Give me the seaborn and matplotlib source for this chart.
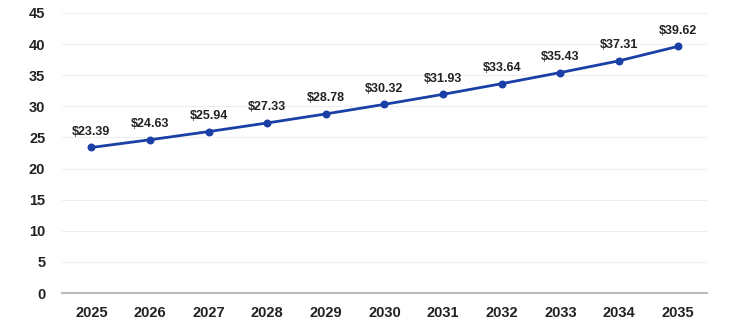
import matplotlib
matplotlib.use("Agg")
import matplotlib.pyplot as plt
import seaborn as sns
import pandas as pd

years = ["2025", "2026", "2027", "2028", "2029", "2030", "2031", "2032", "2033", "2034", "2035"]
values = [23.39, 24.63, 25.94, 27.33, 28.78, 30.32, 31.93, 33.64, 35.43, 37.31, 39.62]
yticks = [0, 5, 10, 15, 20, 25, 30, 35, 40, 45]

sns.set_theme(style="white")
plt.rcParams["font.family"] = ["Liberation Sans", "DejaVu Sans"]

df = pd.DataFrame({"year": years, "value": values})

fig = plt.figure(figsize=(7.41, 3.33), dpi=100)
ax = fig.add_axes([0.0837, 0.12, 0.8703, 0.841])

sns.pointplot(data=df, x="year", y="value", ax=ax, color="#1a3fa6",
              markers="o", scale=0.6, linewidth=2)
for line in ax.lines:
    line.set_markersize(4.5)
    line.set_linewidth(2)

for i, v in enumerate(values):
    ax.annotate(f"${v:.2f}", (i, v), xytext=(0, 7), textcoords="offset points",
                ha="center", va="bottom", fontsize=9, fontweight="bold", color="#222222")

ax.set_ylim(0, 45)
ax.set_xlim(-0.5, len(years) - 0.5)
ax.set_yticks(yticks)
ax.set_yticklabels([str(t) for t in yticks], fontsize=10.5, fontweight="bold", color="#222222")
ax.set_xticks(range(len(years)))
ax.set_xticklabels(years, fontsize=10.5, fontweight="bold", color="#222222")
ax.set_xlabel("")
ax.set_ylabel("")
ax.grid(axis="y", color="#eeeeee", linewidth=0.8)
ax.set_axisbelow(True)
for s in ["top", "right", "left"]:
    ax.spines[s].set_visible(False)
ax.spines["bottom"].set_color("#bbbbbb")
ax.spines["bottom"].set_linewidth(1.5)
ax.tick_params(axis="both", length=0, pad=9)
ax.tick_params(axis="y", pad=12)

fig.savefig("out.png", dpi=100)
